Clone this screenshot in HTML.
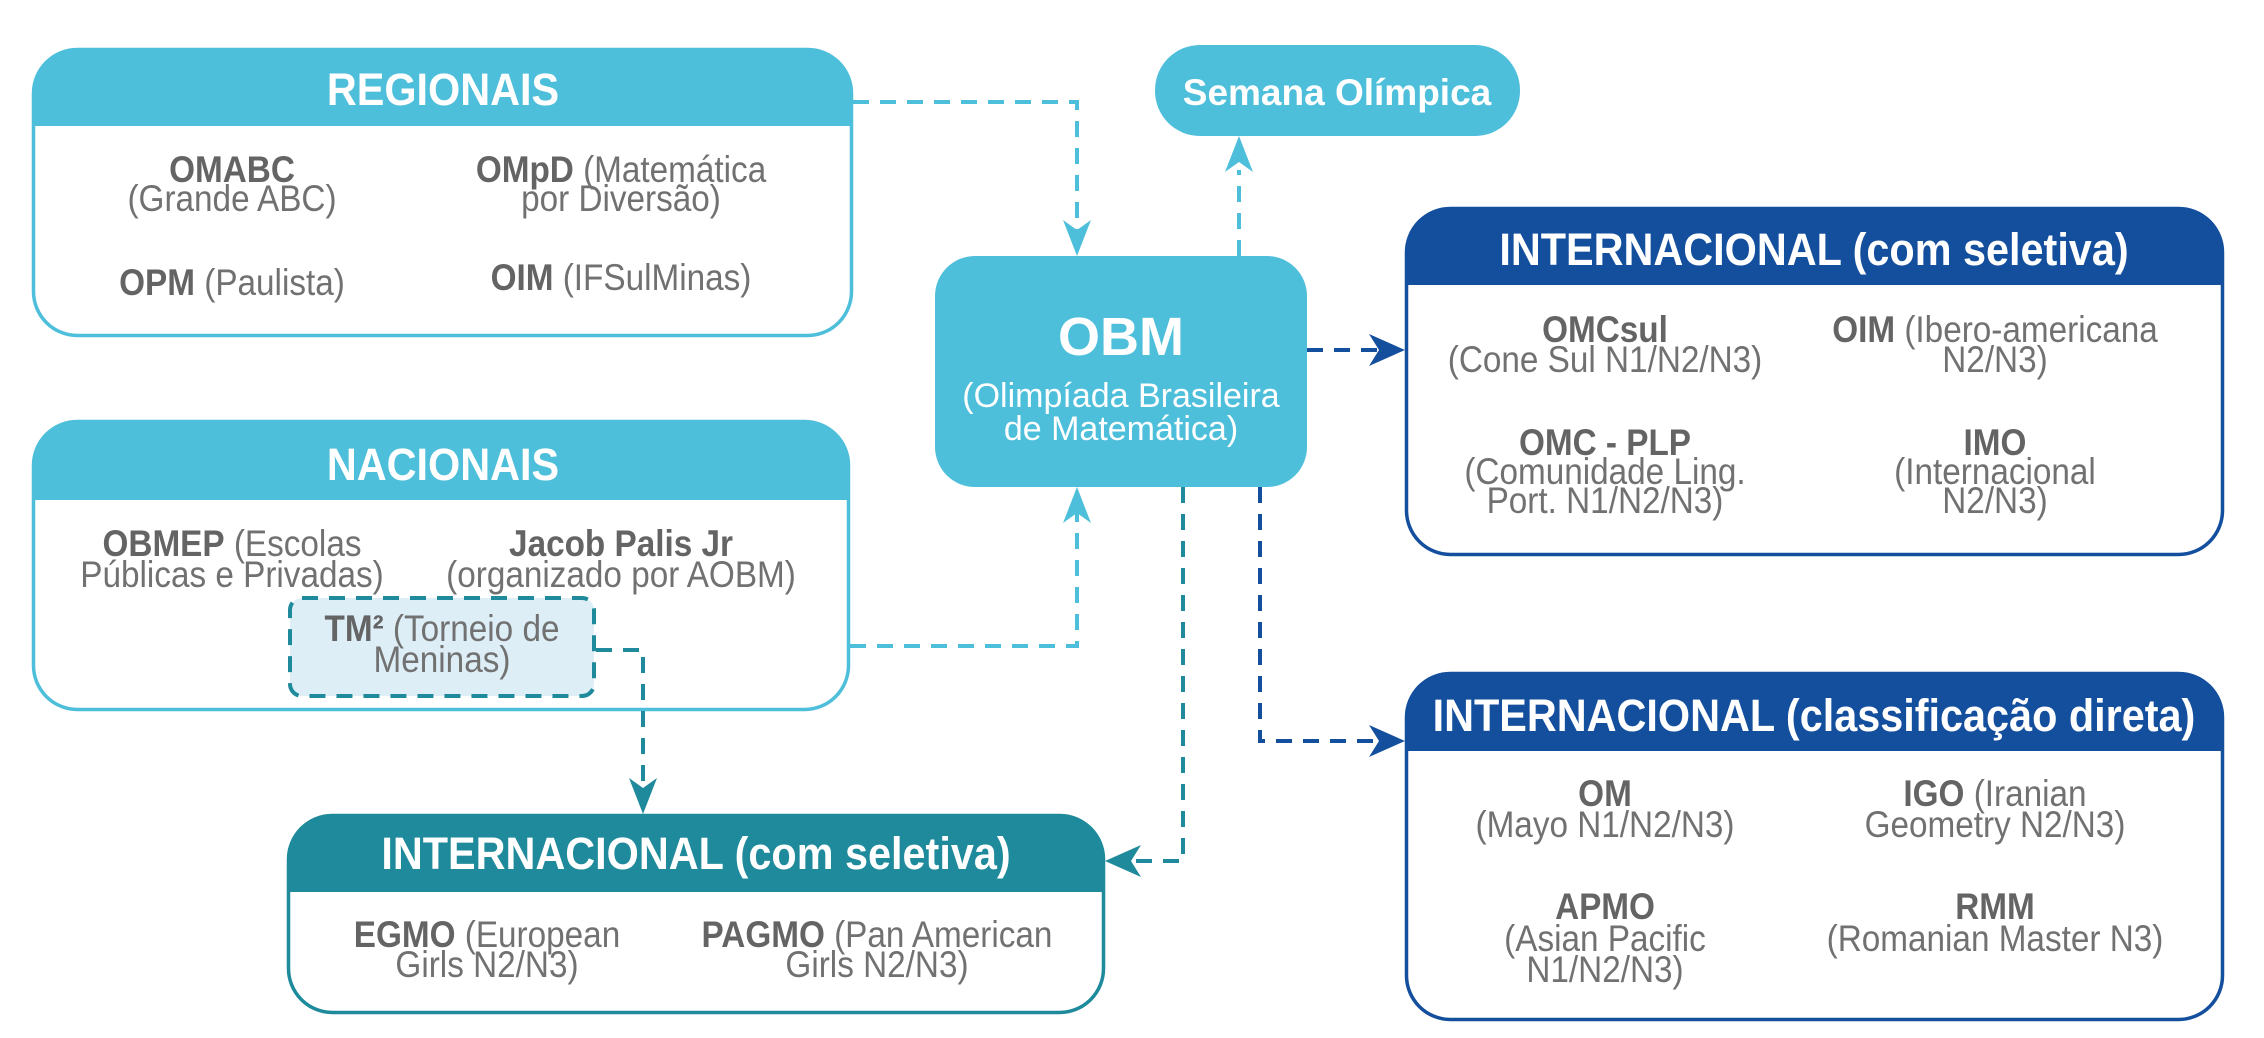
<!DOCTYPE html>
<html><head><meta charset="utf-8"><style>
html,body{margin:0;padding:0;background:#fff;}
svg{display:block}
text{font-family:"Liberation Sans Narrow","Liberation Sans",sans-serif;transform-box:fill-box;transform-origin:center;}
.h{font-weight:bold;font-size:45px;fill:#fff;text-anchor:middle;transform:scaleX(0.92)}
.t{font-size:37px;fill:#717171;text-anchor:middle;transform:scaleX(0.9)}
.b{font-weight:bold;fill:#646464}
</style></head><body>
<svg width="2264" height="1038" viewBox="0 0 2264 1038" xmlns="http://www.w3.org/2000/svg">
<defs>
<clipPath id="c1"><rect x="32" y="48" width="821" height="289" rx="45"/></clipPath>
<clipPath id="c2"><rect x="32" y="420" width="818" height="291" rx="45"/></clipPath>
<clipPath id="c3"><rect x="1405" y="207" width="819" height="349" rx="45"/></clipPath>
<clipPath id="c4"><rect x="1405" y="672" width="819" height="349" rx="45"/></clipPath>
<clipPath id="c5"><rect x="287" y="814" width="818" height="200" rx="45"/></clipPath>
</defs>

<g fill="none" stroke-width="4" stroke-dasharray="16,11">
<path d="M853 102 H1077 V232" stroke="#4EBFDB"/>
<path d="M850 646 H1077 V512" stroke="#4EBFDB"/>
<path d="M1239 256 V170" stroke="#4EBFDB"/>
<path d="M1307 350 H1380" stroke="#144F9E"/>
<path d="M1260 487 V741 H1380" stroke="#144F9E"/>
<path d="M1183 487 V861 H1130" stroke="#1E8A9B"/>
</g>
<polygon points="1077,256 1063,220 1077,230 1091,220" fill="#4EBFDB"/>
<polygon points="1077,487 1063,523 1077,513 1091,523" fill="#4EBFDB"/>
<polygon points="1239,136 1225,172 1239,162 1253,172" fill="#4EBFDB"/>
<polygon points="1405,350 1369,334 1379,350 1369,366" fill="#144F9E"/>
<polygon points="1405,741 1369,725 1379,741 1369,757" fill="#144F9E"/>
<polygon points="1105,861 1141,845 1131,861 1141,877" fill="#1E8A9B"/>

<rect x="32" y="48" width="821" height="289" rx="45" fill="#fff"/>
<rect x="32" y="48" width="821" height="78" fill="#4EBFDB" clip-path="url(#c1)"/>
<rect x="33.5" y="49.5" width="818" height="286" rx="44" fill="none" stroke="#4EBFDB" stroke-width="3.5"/>
<text class="h" x="443" y="105">REGIONAIS</text>
<text class="t" x="232" y="182"><tspan class="b">OMABC</tspan></text>
<text class="t" x="232" y="211">(Grande ABC)</text>
<text class="t" x="621" y="182"><tspan class="b">OMpD</tspan> (Matemática</text>
<text class="t" x="621" y="211">por Diversão)</text>
<text class="t" x="232" y="295"><tspan class="b">OPM</tspan> (Paulista)</text>
<text class="t" x="621" y="290"><tspan class="b">OIM</tspan> (IFSulMinas)</text>

<rect x="32" y="420" width="818" height="291" rx="45" fill="#fff"/>
<rect x="32" y="420" width="818" height="80" fill="#4EBFDB" clip-path="url(#c2)"/>
<rect x="33.5" y="421.5" width="815" height="288" rx="44" fill="none" stroke="#4EBFDB" stroke-width="3.5"/>
<text class="h" x="443" y="480">NACIONAIS</text>
<text class="t" x="232" y="556"><tspan class="b">OBMEP</tspan> (Escolas</text>
<text class="t" x="232" y="587">Públicas e Privadas)</text>
<text class="t" x="621" y="556"><tspan class="b">Jacob Palis Jr</tspan></text>
<text class="t" x="621" y="587">(organizado por AOBM)</text>
<rect x="290" y="598" width="304" height="98" rx="12" fill="#DDEEF6" stroke="#1E8A9B" stroke-width="4" stroke-dasharray="16,11"/>
<text class="t" x="442" y="641"><tspan class="b">TM²</tspan> (Torneio de</text>
<text class="t" x="442" y="672">Meninas)</text>
<path d="M596 650 H643 V790" fill="none" stroke="#1E8A9B" stroke-width="4" stroke-dasharray="16,11"/>
<polygon points="643,814 629,778 643,788 657,778" fill="#1E8A9B"/>

<rect x="1155" y="45" width="365" height="91" rx="45" fill="#4EBFDB"/>
<text x="1337" y="105" text-anchor="middle" font-weight="bold" font-size="37" fill="#fff">Semana Olímpica</text>

<rect x="935" y="256" width="372" height="231" rx="40" fill="#4EBFDB"/>
<text x="1121" y="355" text-anchor="middle" font-weight="bold" font-size="54" fill="#fff">OBM</text>
<text x="1121" y="407" text-anchor="middle" font-size="34" fill="#fff">(Olimpíada Brasileira</text>
<text x="1121" y="440" text-anchor="middle" font-size="34" fill="#fff">de Matemática)</text>

<rect x="1405" y="207" width="819" height="349" rx="45" fill="#fff"/>
<rect x="1405" y="207" width="819" height="78" fill="#144F9E" clip-path="url(#c3)"/>
<rect x="1406.5" y="208.5" width="816" height="346" rx="44" fill="none" stroke="#144F9E" stroke-width="3.5"/>
<text class="h" x="1814" y="265">INTERNACIONAL (com seletiva)</text>
<text class="t" x="1605" y="342"><tspan class="b">OMCsul</tspan></text>
<text class="t" x="1605" y="372">(Cone Sul N1/N2/N3)</text>
<text class="t" x="1995" y="342"><tspan class="b">OIM</tspan> (Ibero-americana</text>
<text class="t" x="1995" y="372">N2/N3)</text>
<text class="t" x="1605" y="455"><tspan class="b">OMC - PLP</tspan></text>
<text class="t" x="1605" y="484">(Comunidade Ling.</text>
<text class="t" x="1605" y="513">Port. N1/N2/N3)</text>
<text class="t" x="1995" y="455"><tspan class="b">IMO</tspan></text>
<text class="t" x="1995" y="484">(Internacional</text>
<text class="t" x="1995" y="513">N2/N3)</text>

<rect x="1405" y="672" width="819" height="349" rx="45" fill="#fff"/>
<rect x="1405" y="672" width="819" height="79" fill="#144F9E" clip-path="url(#c4)"/>
<rect x="1406.5" y="673.5" width="816" height="346" rx="44" fill="none" stroke="#144F9E" stroke-width="3.5"/>
<text class="h" x="1814" y="731">INTERNACIONAL (classificação direta)</text>
<text class="t" x="1605" y="806"><tspan class="b">OM</tspan></text>
<text class="t" x="1605" y="837">(Mayo N1/N2/N3)</text>
<text class="t" x="1995" y="806"><tspan class="b">IGO</tspan> (Iranian</text>
<text class="t" x="1995" y="837">Geometry N2/N3)</text>
<text class="t" x="1605" y="919"><tspan class="b">APMO</tspan></text>
<text class="t" x="1605" y="951">(Asian Pacific</text>
<text class="t" x="1605" y="982">N1/N2/N3)</text>
<text class="t" x="1995" y="919"><tspan class="b">RMM</tspan></text>
<text class="t" x="1995" y="951">(Romanian Master N3)</text>

<rect x="287" y="814" width="818" height="200" rx="45" fill="#fff"/>
<rect x="287" y="814" width="818" height="78" fill="#1E8A9B" clip-path="url(#c5)"/>
<rect x="288.5" y="815.5" width="815" height="197" rx="44" fill="none" stroke="#1E8A9B" stroke-width="3.5"/>
<text class="h" x="696" y="869">INTERNACIONAL (com seletiva)</text>
<text class="t" x="487" y="947"><tspan class="b">EGMO</tspan> (European</text>
<text class="t" x="487" y="977">Girls N2/N3)</text>
<text class="t" x="877" y="947"><tspan class="b">PAGMO</tspan> (Pan American</text>
<text class="t" x="877" y="977">Girls N2/N3)</text>
</svg>
</body></html>
